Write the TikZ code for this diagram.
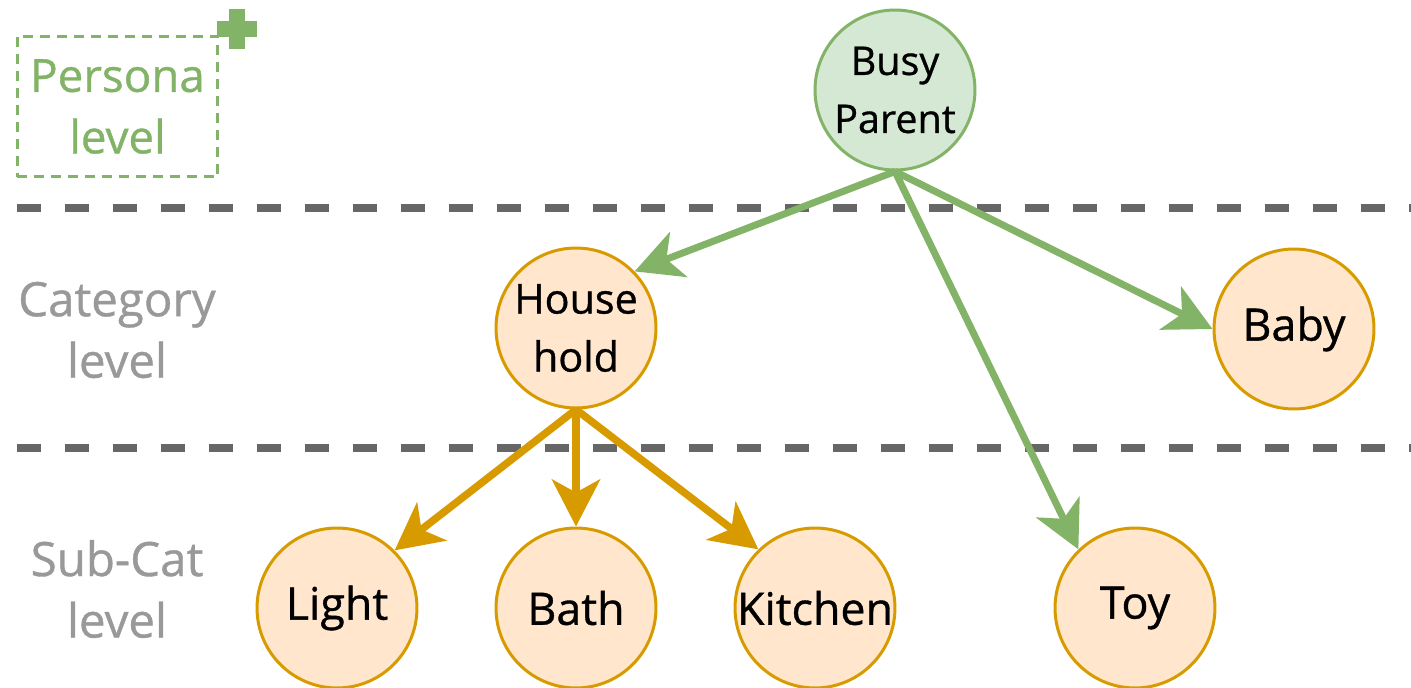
\documentclass[tikz,border=0pt]{standalone}
\usepackage{fontspec}
\setmainfont{Open Sans}[FakeBold=0.8]
\usetikzlibrary{arrows.meta}
\definecolor{gfill}{HTML}{D5E8D4}
\definecolor{gline}{HTML}{82B366}
\definecolor{ofill}{HTML}{FFE6CC}
\definecolor{oline}{HTML}{D79B00}
\definecolor{sep}{HTML}{666666}
\definecolor{lvl}{HTML}{999999}
\begin{document}
\begin{tikzpicture}[x=0.02cm,y=-0.02cm,
  gnode/.style={circle,draw=gline,fill=gfill,line width=0.06cm,minimum size=3.2cm,inner sep=0pt,align=center,font=\fontsize{22.5}{33}\selectfont},
  onode/.style={circle,draw=oline,fill=ofill,line width=0.06cm,minimum size=3.2cm,inner sep=0pt,align=center,font=\fontsize{25.5}{33}\selectfont},
  hnode/.style={onode,font=\fontsize{23.5}{33}\selectfont},
  lvllabel/.style={align=center,text=lvl,font=\fontsize{27}{35}\selectfont},
  sepline/.style={draw=sep,line width=0.16cm,dash pattern=on 0.48cm off 0.48cm},
  garrow/.style={draw=gline,line width=0.14cm,-{Stealth[length=0.94cm,width=0.96cm,inset=0.26cm]}},
  oarrow/.style={draw=oline,line width=0.15cm,-{Stealth[length=0.94cm,width=0.96cm,inset=0.26cm]}}
]
\useasboundingbox (0,0) rectangle (1411,687);
% separators
\coordinate (s1a) at (17,208); \coordinate (s1b) at (1411,208);
\coordinate (s2a) at (17,448); \coordinate (s2b) at (1411,448);
\draw[sepline] (s1a) -- (s1b);
\draw[sepline] (s2a) -- (s2b);
% persona box
\node[draw=gline,line width=0.06cm,dash pattern=on 0.2cm off 0.14cm,minimum width=4.02cm,minimum height=2.82cm,inner sep=0pt,align=center,text=gline,font=\fontsize{26}{35}\selectfont] (pbox) at (117.5,106.5) {Persona\\level};
\fill[gline] (229,9) rectangle (245,49);
\fill[gline] (217,21) rectangle (257,37);
% level labels
\node[lvllabel] (cat) at (117,330) {Category\\level};
\node[lvllabel] (sub) at (117,589) {Sub-Cat\\level};
% nodes
\node[gnode] (bp) at (895,90) {Busy\\Parent};
\node[hnode] (hh) at (576,328) {House\\hold};
\node[onode] (baby) at (1294,329) {Baby};
\node[onode] (toy) at (1135,608) {Toy};
\node[onode] (light) at (337,608) {Light};
\node[onode] (bath) at (576,608) {Bath};
\node[onode] (kit) at (815,608) {Kitchen};
% arrows
\draw[garrow] (bp.south) -- (hh.44);
\draw[garrow] (bp.south) -- (baby.west);
\draw[garrow] (bp.south) -- (toy.134);
\draw[oarrow] (hh.south) -- (light.45);
\draw[oarrow] (hh.south) -- (bath.north);
\draw[oarrow] (hh.south) -- (kit.134);
\end{tikzpicture}
\end{document}
